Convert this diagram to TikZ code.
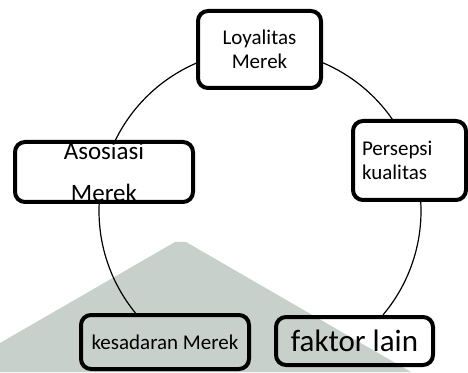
\documentclass[tikz,border=0pt]{standalone}
\usepackage{fontspec}
\setmainfont{Carlito}
\definecolor{wm}{RGB}{200,208,204}
\begin{document}
\begin{tikzpicture}[x=1pt,y=1pt,
  box/.style={draw=black, line width=4pt, rounded corners=10pt, inner sep=0pt, align=center},
  ring/.style={line width=1.2pt}]
\useasboundingbox (0,0) rectangle (468,372);
% watermark
\fill[wm] (0,0) -- (0,29) -- (175,130) -- (186,130) -- (411,0) -- cycle;
% circle centre
\coordinate (c) at (260,161);
\coordinate (a1) at ([shift={(113.4:161)}]c);
\coordinate (a2) at ([shift={(176.8:161)}]c);
\coordinate (a3) at ([shift={(-40.2:161)}]c);
\coordinate (a4) at ([shift={(34.8:161)}]c);
\draw[ring] (a1) arc[start angle=113.4, end angle=153.8, radius=161];
\draw[ring] (a2) arc[start angle=176.8, end angle=219.3, radius=161];
\draw[ring] (a3) arc[start angle=-40.2, end angle=3.2, radius=161];
\draw[ring] (a4) arc[start angle=34.8, end angle=67.0, radius=161];
% boxes
\node[box, minimum width=123pt, minimum height=77pt, font=\fontsize{21}{24}\selectfont] (loy) at (259.5,322.5) {Loyalitas\\Merek};
\node[box, minimum width=113pt, minimum height=79pt, text width=95pt, align=left, font=\fontsize{21}{24}\selectfont] (per) at (409.5,211.5) {Persepsi\\kualitas};
\node[box, minimum width=178pt, minimum height=60pt, font=\fontsize{25}{30}\selectfont] (aso) at (104,200) {Asosiasi\\[12pt]Merek};
\node[box, minimum width=168pt, minimum height=54pt, font=\fontsize{21}{24}\selectfont] (kes) at (165,30) {kesadaran Merek};
\node[box, minimum width=157pt, minimum height=48pt, font=\fontsize{31}{36}\selectfont] (fak) at (354.5,31) {faktor lain};
\end{tikzpicture}
\end{document}
